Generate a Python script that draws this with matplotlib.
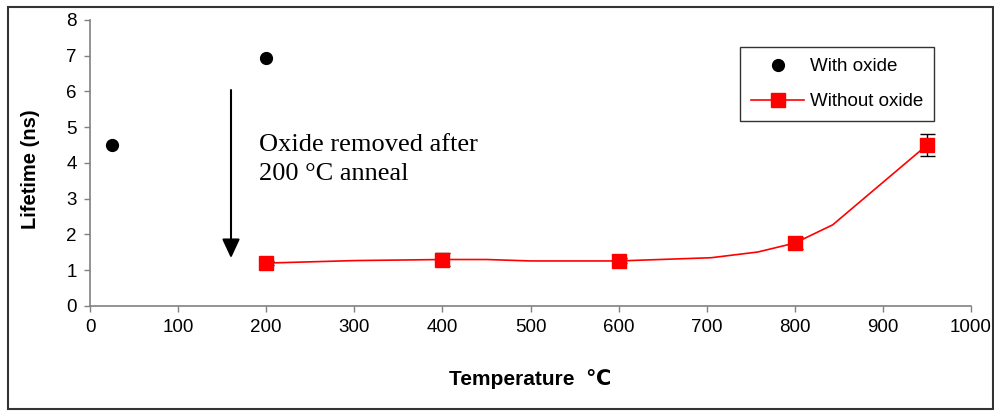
import matplotlib
matplotlib.use("Agg")
import matplotlib.pyplot as plt
from matplotlib.patches import Rectangle

# measured points
with_oxide_T = [25, 200]
with_oxide_tau = [4.5, 6.95]

without_oxide_T = [200, 400, 600, 800, 950]
without_oxide_tau = [1.2, 1.3, 1.27, 1.77, 4.5]
without_oxide_err = [0.06, 0.17, 0.06, 0.17, 0.3]

# smoothed trend line as drawn in the original (vertices)
trend_T = [200, 300, 400, 450, 500, 600, 705, 758, 800, 843, 950]
trend_tau = [1.2, 1.27, 1.3, 1.3, 1.26, 1.26, 1.35, 1.51, 1.76, 2.27, 4.5]

x_ticks = [0, 100, 200, 300, 400, 500, 600, 700, 800, 900, 1000]
y_ticks = [0, 1, 2, 3, 4, 5, 6, 7, 8]

if __name__ == "__main__":
    plt.rcParams['font.family'] = ['Liberation Sans', 'DejaVu Sans']
    axis_grey = '#808080'

    fig = plt.figure(figsize=(9.95, 4.11), dpi=100)
    ax = fig.add_axes([0.0905, 0.2555, 0.8854, 0.6959])

    # outer frame round the whole chart
    fig.patches.append(Rectangle((8 / 995, 2 / 411), 985 / 995, 402 / 411,
                                 transform=fig.transFigure, fill=False,
                                 edgecolor='#333333', linewidth=1.5))

    ax.plot(with_oxide_T, with_oxide_tau, linestyle='none', marker='o',
            color='black', markersize=8.5, clip_on=False)

    ax.plot(trend_T, trend_tau, color='red', linewidth=1.2)
    ax.errorbar(without_oxide_T, without_oxide_tau, yerr=without_oxide_err,
                fmt='none', ecolor='black', elinewidth=1, capsize=5.4, capthick=1)
    ax.plot(without_oxide_T, without_oxide_tau, linestyle='none', marker='s',
            color='red', markersize=9.5)

    # legend proxies
    h1, = ax.plot([], [], linestyle='none', marker='o', color='black', markersize=8.5)
    h2, = ax.plot([], [], color='red', linewidth=1.2, marker='s', markersize=9.5)
    leg = ax.legend([h1, h2], ['With oxide', 'Without oxide'], loc='upper right',
                    bbox_to_anchor=(0.958, 0.906), fontsize=13.5, frameon=True,
                    fancybox=False, edgecolor='black', handlelength=2.8,
                    labelspacing=0.95, borderpad=0.6, handletextpad=0.3,
                    borderaxespad=0)
    leg.get_frame().set_linewidth(1.0)

    ax.annotate('', xy=(160, 1.34), xytext=(160, 6.04),
                arrowprops=dict(arrowstyle='-|>,head_width=0.27,head_length=0.58',
                                color='black', lw=1.5, mutation_scale=20,
                                shrinkA=0, shrinkB=0))
    ax.text(192, 4.8, 'Oxide removed after\n200 \u00b0C anneal', fontsize=19,
            family=['Liberation Serif', 'DejaVu Serif'], va='top', ha='left',
            linespacing=1.4)

    ax.set_xlim(0, 1000)
    ax.set_ylim(0, 8)
    ax.set_xticks(x_ticks)
    ax.set_yticks(y_ticks)
    ax.tick_params(axis='both', direction='out', length=4.5, width=1,
                   color=axis_grey, labelsize=13.5, pad=5)

    for side in ['top', 'right']:
        ax.spines[side].set_visible(False)
    for side in ['left', 'bottom']:
        ax.spines[side].set_color(axis_grey)
        ax.spines[side].set_linewidth(1.2)

    ax.set_xlabel('Temperature  \u2103', fontsize=15, fontweight='bold')
    ax.set_ylabel('Lifetime (ns)', fontsize=14.5, fontweight='bold')
    ax.xaxis.set_label_coords(0.5, -0.22)
    ax.yaxis.set_label_coords(-0.057, 0.48)

    fig.savefig('out.png', dpi=100)
